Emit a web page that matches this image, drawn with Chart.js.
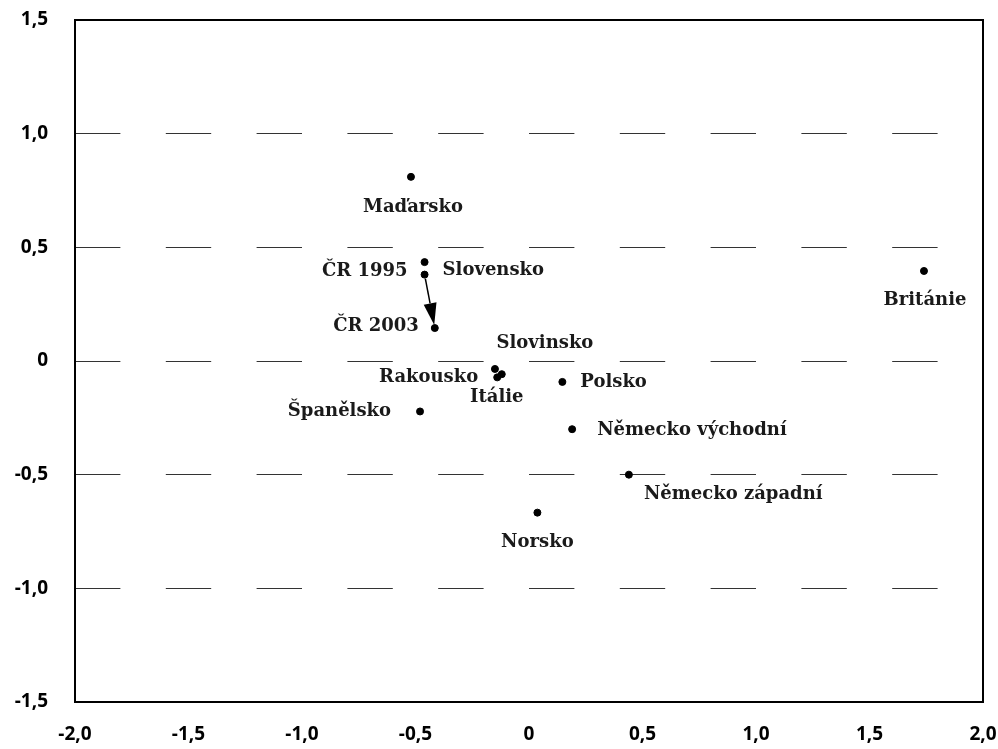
<!DOCTYPE html>
<html>
<head>
<meta charset="utf-8">
<script src="https://cdn.jsdelivr.net/npm/chart.js@4/dist/chart.umd.min.js"></script>
<style>
  html, body { margin: 0; padding: 0; background: #fff; }
  #wrap { width: 998px; height: 749px; }
</style>
</head>
<body>
<div id="wrap"><canvas id="myChart" width="998" height="749"></canvas></div>
<script>
// data
var countries = ['Maďarsko', 'Slovensko', 'ČR 1995', 'ČR 2003', 'Slovinsko', 'Rakousko', 'Itálie',
                 'Polsko', 'Německo východní', 'Německo západní', 'Norsko', 'Španělsko', 'Británie'];
var xValues = [-0.52, -0.46, -0.46, -0.415, -0.15, -0.14, -0.12, 0.147, 0.19, 0.44, 0.037, -0.48, 1.74];
var yValues = [0.81, 0.435, 0.38, 0.145, -0.035, -0.072, -0.058, -0.092, -0.30, -0.50, -0.667, -0.222, 0.396];
var xTicks = [-2, -1.5, -1, -0.5, 0, 0.5, 1, 1.5, 2];
var yTicks = [-1.5, -1, -0.5, 0, 0.5, 1, 1.5];

// where each label sits relative to its point: [dx, dy, align]
var labelPlace = {
    'Maďarsko': [2, 30, 'center'],
    'Slovensko': [18, 8, 'left'],
    'ČR 1995': [-17, -3, 'right'],
    'ČR 2003': [-16, -2, 'right'],
    'Slovinsko': [50, -26, 'center'],
    'Rakousko': [-19, 0, 'right'],
    'Itálie': [-5, 23, 'center'],
    'Polsko': [18, 0, 'left'],
    'Německo východní': [25, 1, 'left'],
    'Německo západní': [15, 20, 'left'],
    'Norsko': [0, 30, 'center'],
    'Španělsko': [-29, 0, 'right'],
    'Británie': [1, 29, 'center']
};

function fmt(v){
    if (v === 0) return '0';
    return v.toFixed(1).replace('.', ',');
}

var points = [];
for (var i = 0; i < countries.length; i++) {
    points.push({x: xValues[i], y: yValues[i]});
}

function noPad(scale){
    scale.paddingTop = 0;
    scale.paddingBottom = 0;
    scale.paddingLeft = 0;
    scale.paddingRight = 0;
}

const labelsPlugin = {
    id: 'labelsPlugin',
    afterDatasetsDraw(chart) {
        const ctx = chart.ctx;
        const xs = chart.scales.x, ys = chart.scales.y;
        const a = chart.chartArea;

        // frame round the plot
        ctx.save();
        ctx.strokeStyle = '#000';
        ctx.lineWidth = 2;
        ctx.strokeRect(a.left, a.top, a.right - a.left, a.bottom - a.top);
        ctx.restore();

        // point names
        ctx.save();
        ctx.fillStyle = '#1a1a1a';
        ctx.font = 'bold 18px "DejaVu Serif"';
        ctx.textBaseline = 'middle';
        for (var i = 0; i < countries.length; i++) {
            var p = labelPlace[countries[i]];
            var px = xs.getPixelForValue(xValues[i]);
            var py = ys.getPixelForValue(yValues[i]);
            ctx.textAlign = p[2];
            ctx.fillText(countries[i], px + p[0], py + p[1]);
        }
        ctx.restore();

        // arrow CR 1995 -> CR 2003
        var i1 = countries.indexOf('ČR 1995'), i2 = countries.indexOf('ČR 2003');
        var x1 = xs.getPixelForValue(xValues[i1]), y1 = ys.getPixelForValue(yValues[i1]);
        var x2 = xs.getPixelForValue(xValues[i2]), y2 = ys.getPixelForValue(yValues[i2]);
        var ang = Math.atan2(y2 - y1, x2 - x1);
        var sx = x1 + Math.cos(ang) * 4, sy = y1 + Math.sin(ang) * 4;
        var ex = x2 - Math.cos(ang) * 3, ey = y2 - Math.sin(ang) * 3;
        var hl = 22, hw = 6.5;
        var bx = ex - Math.cos(ang) * hl, by = ey - Math.sin(ang) * hl;
        ctx.save();
        ctx.strokeStyle = '#000';
        ctx.fillStyle = '#000';
        ctx.lineWidth = 1.5;
        ctx.beginPath();
        ctx.moveTo(sx, sy);
        ctx.lineTo(bx, by);
        ctx.stroke();
        ctx.beginPath();
        ctx.moveTo(ex, ey);
        ctx.lineTo(bx + Math.sin(ang) * hw, by - Math.cos(ang) * hw);
        ctx.lineTo(bx - Math.sin(ang) * hw, by + Math.cos(ang) * hw);
        ctx.closePath();
        ctx.fill();
        ctx.restore();
    }
};

const ctx = document.getElementById('myChart').getContext('2d');
const myChart = new Chart(ctx, {
    type: 'scatter',
    data: {
        datasets: [{
            label: 'země',
            data: points,
            backgroundColor: '#000',
            borderColor: '#000',
            pointRadius: 3.5,
            pointHoverRadius: 3.5
        }]
    },
    options: {
        responsive: false,
        animation: false,
        layout: { padding: { top: 20, right: 15, left: 0, bottom: 0 } },
        plugins: {
            legend: { display: false },
            tooltip: { enabled: false }
        },
        scales: {
            x: {
                type: 'linear',
                min: -2, max: 2,
                afterBuildTicks: function(scale){ scale.ticks = xTicks.map(function(v){ return {value: v}; }); },
                afterFit: function(scale){ scale.height = 47; noPad(scale); },
                grid: { display: false, drawTicks: false },
                border: { display: false },
                ticks: {
                    padding: 21,
                    color: '#000',
                    font: { family: 'Open Sans', size: 19, weight: 'bold' },
                    callback: function(v){ return fmt(v); }
                }
            },
            y: {
                type: 'linear',
                min: -1.5, max: 1.5,
                afterBuildTicks: function(scale){ scale.ticks = yTicks.map(function(v){ return {value: v}; }); },
                afterFit: function(scale){ scale.width = 75; noPad(scale); },
                grid: {
                    drawTicks: false,
                    lineWidth: 1,
                    color: function(c){
                        if (c.tick && Math.abs(c.tick.value) > 1.4) return 'rgba(0,0,0,0)';
                        return '#333';
                    }
                },
                border: { display: false, dash: [45.4, 45.4] },
                ticks: {
                    padding: 27,
                    color: '#000',
                    font: { family: 'Open Sans', size: 19, weight: 'bold' },
                    callback: function(v){ return fmt(v); }
                }
            }
        }
    },
    plugins: [labelsPlugin]
});
</script>
</body>
</html>
